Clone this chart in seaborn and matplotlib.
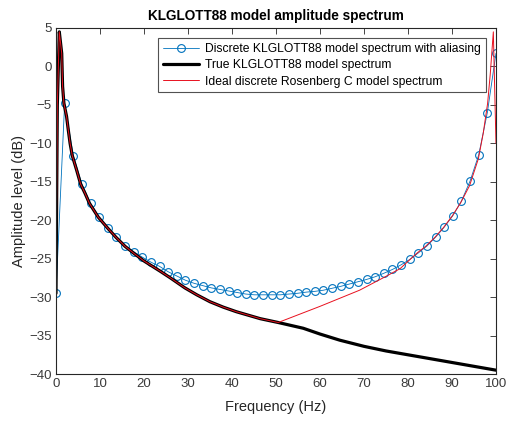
import numpy as np
import pandas as pd
import matplotlib
matplotlib.use("Agg")
import matplotlib.pyplot as plt
import seaborn as sns

# Discrete spectrum: harmonic index and level (dB)
harmonic_index = np.arange(52)
harmonic_step_hz = 100 / 51
discrete_db = [
    -29.5, -4.8, -11.6, -15.3, -17.8, -19.6, -21.0, -22.2, -23.35, -24.1,
    -24.8, -25.45, -26.0, -26.7, -27.25, -27.8, -28.2, -28.5, -28.8, -29.0,
    -29.2, -29.4, -29.6, -29.7, -29.7, -29.7, -29.7, -29.6, -29.5, -29.35,
    -29.25, -29.1, -28.85, -28.6, -28.3, -28.0, -27.7, -27.35, -26.9, -26.4,
    -25.8, -25.1, -24.25, -23.35, -22.2, -20.9, -19.4, -17.5, -14.9, -11.5,
    -6.0, 1.7,
]

# Continuous (true) model spectrum
true_freq = [0, 0.3, 0.75, 1.3, 1.5, 1.8, 2.4, 2.8, 3.2, 3.7, 4.7, 5.6, 6.6,
             7.6, 9.6, 11.7, 13.6, 15.7, 17.7, 20, 23.6, 26, 29.3, 32, 35, 38,
             41, 44, 46.4, 50.5, 56.2, 60, 64.5, 70, 75, 80, 85, 90, 95, 100]
true_db = [-29.5, -5.0, 4.5, 1.7, -2.6, -4.8, -6.5, -8.3, -10.0, -11.6, -13.5,
           -15.3, -16.5, -17.8, -19.6, -21.0, -22.2, -23.4, -24.3, -25.3,
           -26.6, -27.5, -28.8, -29.7, -30.6, -31.3, -31.9, -32.4, -32.8,
           -33.3, -34.05, -34.8, -35.6, -36.4, -37.0, -37.5, -38.0, -38.5,
           -39.0, -39.5]

# Ideal discrete Rosenberg C spectrum
ideal_freq = true_freq[:30] + [60, 69, 75, 78.2, 82, 84, 86, 88, 90, 92, 94,
                               96, 97.1, 98.1, 98.7, 99.4, 100]
ideal_db = true_db[:30] + [-31.2, -29.1, -27.3, -26.3, -24.3, -23.4, -22.3,
                           -21.0, -19.5, -17.7, -15.5, -12.0, -8.7, -4.8,
                           -1.0, 4.5, -10.0]

discrete = pd.DataFrame({"freq": harmonic_index * harmonic_step_hz,
                         "level": discrete_db})
true_spec = pd.DataFrame({"freq": true_freq, "level": true_db})
ideal_spec = pd.DataFrame({"freq": ideal_freq, "level": ideal_db})

sns.set_theme(style="white")
plt.rcParams["font.family"] = ["Liberation Sans", "DejaVu Sans"]

fig = plt.figure(figsize=(5.10, 4.21), dpi=100)
ax = fig.add_axes([0.1098, 0.1116, 0.8627, 0.8219])

sns.lineplot(data=discrete, x="freq", y="level", ax=ax, color="#0072BD",
             linewidth=0.6, marker="o", markersize=5.6,
             markerfacecolor="none", markeredgecolor="#0072BD",
             markeredgewidth=0.8, estimator=None, sort=False,
             label="Discrete KLGLOTT88 model spectrum with aliasing")
sns.lineplot(data=true_spec, x="freq", y="level", ax=ax, color="black",
             linewidth=2.3, estimator=None, sort=False,
             label="True KLGLOTT88 model spectrum")
sns.lineplot(data=ideal_spec, x="freq", y="level", ax=ax, color="#E8101E",
             linewidth=0.7, estimator=None, sort=False,
             label="Ideal discrete Rosenberg C model spectrum")

ax.set_xlim(0, 100)
ax.set_ylim(-40, 5)
ax.set_xticks(np.arange(0, 101, 10))
ax.set_yticks(np.arange(-40, 6, 5))

axis_color = "#262626"
for side in ["left", "right", "top", "bottom"]:
    ax.spines[side].set_visible(True)
    ax.spines[side].set_color(axis_color)
    ax.spines[side].set_linewidth(0.8)
ax.tick_params(direction="in", length=4, width=0.6, colors=axis_color,
               top=True, right=True, labelsize=9.5, pad=3)
for lbl in ax.get_xticklabels() + ax.get_yticklabels():
    lbl.set_color("#3a3a3a")

ax.set_xlabel("Frequency (Hz)", fontsize=10.5, color=axis_color, labelpad=7)
ax.set_ylabel("Amplitude level (dB)", fontsize=10.5, color=axis_color,
              labelpad=2)
ax.set_title("KLGLOTT88 model amplitude spectrum", fontsize=9.8,
             fontweight="bold", color="black", pad=6)

leg = ax.legend(loc="upper right", bbox_to_anchor=(0.977, 0.971),
                fontsize=8.7, frameon=True, fancybox=False, handlelength=3.0,
                handletextpad=0.5, borderpad=0.4, labelspacing=0.36,
                borderaxespad=0)
leg.get_frame().set_edgecolor(axis_color)
leg.get_frame().set_linewidth(0.8)
for txt in leg.get_texts():
    txt.set_color("black")

fig.savefig("out.png", dpi=100, facecolor="white")
